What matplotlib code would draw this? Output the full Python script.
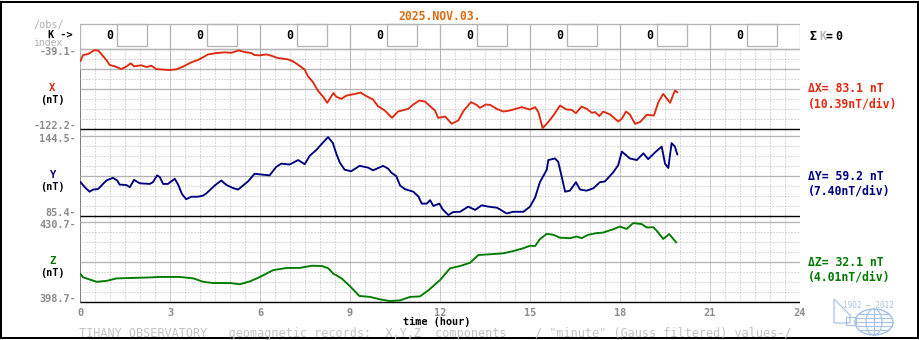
import numpy as np
import matplotlib
matplotlib.use("Agg")
import matplotlib.pyplot as plt
from matplotlib.patches import Rectangle, Ellipse, Polygon

W, H = 920, 340
MONO = "DejaVu Sans Mono"
FS = 8.3
FS_SMALL = 7.4

# X component (nT)
x_hours = [0.02, 0.10, 0.27, 0.49, 0.62, 0.73, 0.88, 0.99, 1.16, 1.38,
           1.54, 1.69, 1.80, 2.04, 2.21, 2.38, 2.54, 2.82, 2.99, 3.21,
           3.43, 3.71, 3.93, 4.10, 4.27, 4.54, 4.82, 5.04, 5.29, 5.49,
           5.71, 5.82, 5.99, 6.21, 6.38, 6.60, 6.93, 7.10, 7.32, 7.49,
           7.60, 7.77, 7.93, 8.10, 8.24, 8.36, 8.45, 8.54, 8.71, 8.88,
           9.16, 9.36, 9.51, 9.77, 9.93, 10.16, 10.40, 10.60, 10.94, 11.11,
           11.31, 11.50, 11.67, 11.83, 11.94, 12.17, 12.39, 12.61, 12.78, 13.03,
           13.22, 13.33, 13.53, 13.67, 13.89, 14.11, 14.33, 14.72, 15.00, 15.17,
           15.28, 15.42, 15.56, 15.78, 16.00, 16.22, 16.39, 16.53, 16.72, 16.89,
           17.06, 17.17, 17.31, 17.44, 17.67, 17.94, 18.06, 18.20, 18.33, 18.50,
           18.67, 18.89, 19.13, 19.28, 19.44, 19.67, 19.83, 19.91]
x_values = [-50.5, -44.4, -43.3, -39.1, -39.8, -44.1, -49.7, -55.0, -56.4, -59.3,
            -56.8, -53.2, -56.4, -55.3, -57.1, -55.8, -59.3, -60.0, -60.3, -59.6,
            -56.8, -52.1, -49.7, -46.8, -43.7, -42.3, -41.5, -42.0, -39.4, -41.2,
            -42.3, -44.4, -44.7, -43.7, -45.1, -47.6, -49.0, -51.1, -55.8, -60.0,
            -67.0, -73.4, -82.3, -88.7, -95.3, -89.3, -84.7, -88.7, -91.1, -87.6,
            -85.8, -84.4, -87.6, -91.8, -98.8, -103.5, -111.3, -104.6, -101.7, -97.1,
            -92.9, -94.0, -98.8, -103.5, -111.3, -109.9, -117.6, -114.1, -104.1, -94.6,
            -97.5, -100.6, -97.1, -97.5, -101.7, -104.6, -103.5, -99.9, -102.4, -99.9,
            -105.2, -122.2, -117.6, -108.8, -98.2, -102.4, -102.8, -106.3, -99.3, -101.7,
            -105.9, -105.2, -109.4, -104.6, -107.7, -115.2, -112.3, -104.6, -107.7, -117.6,
            -115.8, -108.1, -108.8, -94.6, -85.8, -95.3, -82.3, -84.0]

# Y component (nT)
y_hours = [0.02, 0.16, 0.32, 0.43, 0.60, 0.88, 1.10, 1.24, 1.32, 1.54,
           1.66, 1.80, 1.99, 2.32, 2.43, 2.57, 2.66, 2.77, 2.93, 3.16,
           3.27, 3.40, 3.54, 3.71, 3.93, 4.10, 4.21, 4.49, 4.71, 4.88,
           5.10, 5.27, 5.60, 5.82, 6.10, 6.32, 6.54, 6.71, 6.99, 7.27,
           7.49, 7.66, 7.88, 8.10, 8.27, 8.43, 8.54, 8.66, 8.82, 9.04,
           9.32, 9.60, 9.77, 10.10, 10.27, 10.38, 10.54, 10.67, 10.83, 11.11,
           11.28, 11.39, 11.56, 11.67, 11.78, 11.98, 12.09, 12.28, 12.44, 12.67,
           12.94, 13.17, 13.39, 13.61, 13.89, 14.00, 14.22, 14.44, 14.78, 15.00,
           15.17, 15.33, 15.56, 15.61, 15.83, 15.94, 16.06, 16.17, 16.33, 16.53,
           16.67, 16.89, 17.11, 17.33, 17.50, 17.78, 17.94, 18.06, 18.33, 18.56,
           18.78, 18.94, 19.17, 19.39, 19.50, 19.61, 19.72, 19.83, 19.91]
y_values = [110.3, 106.5, 103.1, 104.7, 105.1, 111.6, 113.6, 111.6, 108.5, 108.2,
            106.5, 112.1, 109.5, 109.0, 110.3, 115.5, 114.2, 109.0, 109.0, 112.9,
            108.5, 101.3, 97.4, 99.3, 99.3, 100.1, 101.8, 107.8, 111.6, 108.2,
            105.9, 104.7, 110.9, 116.7, 116.0, 115.5, 121.9, 124.4, 123.7, 127.1,
            124.0, 130.4, 134.8, 140.4, 144.5, 139.9, 132.2, 125.2, 119.8, 118.6,
            122.7, 121.4, 119.3, 122.7, 120.6, 117.5, 115.0, 107.8, 105.1, 103.1,
            99.5, 94.1, 94.1, 96.7, 92.3, 94.1, 89.7, 85.4, 87.7, 87.9,
            91.8, 89.3, 92.8, 91.8, 91.0, 89.7, 86.6, 87.9, 87.9, 91.8,
            98.7, 110.3, 119.8, 127.1, 128.3, 125.8, 114.2, 103.1, 103.9, 110.3,
            104.7, 103.9, 105.7, 110.3, 110.9, 118.0, 123.2, 133.5, 128.3, 127.1,
            132.2, 127.8, 132.9, 137.3, 124.4, 121.1, 139.9, 137.3, 131.4]

# Z component (nT)
z_hours = [0.00, 0.11, 0.56, 0.89, 1.22, 1.78, 2.33, 2.67, 3.33, 3.78,
           4.11, 4.44, 5.00, 5.33, 5.67, 6.00, 6.44, 6.89, 7.33, 7.72,
           8.06, 8.28, 8.44, 8.72, 9.00, 9.31, 9.67, 10.00, 10.33, 10.67,
           11.00, 11.33, 11.61, 12.00, 12.33, 12.67, 13.00, 13.28, 13.67, 14.11,
           14.44, 14.78, 15.00, 15.17, 15.33, 15.56, 15.78, 16.00, 16.33, 16.56,
           16.72, 16.94, 17.22, 17.44, 17.78, 18.00, 18.22, 18.44, 18.72, 18.89,
           19.11, 19.22, 19.44, 19.64, 19.87]
z_values = [410.0, 408.4, 406.6, 407.0, 408.0, 408.2, 408.4, 408.6, 408.6, 408.0,
            406.6, 406.1, 406.1, 405.6, 406.8, 408.6, 411.4, 412.3, 412.3, 413.2,
            413.1, 412.1, 410.0, 408.0, 404.8, 400.8, 400.4, 399.4, 398.7, 399.0,
            400.4, 400.6, 403.1, 407.3, 412.1, 413.1, 414.4, 417.6, 417.9, 418.3,
            419.2, 420.4, 421.4, 421.3, 424.1, 426.3, 425.9, 424.7, 424.5, 425.2,
            424.5, 425.9, 426.6, 426.8, 428.2, 429.3, 428.3, 430.7, 430.3, 428.9,
            429.0, 427.6, 424.2, 426.2, 422.8]

k_index = [0, 0, 0, 0, 0, 0, 0, 0]
hour_ticks = [0, 3, 6, 9, 12, 15, 18, 21, 24]
components = ["X", "Y", "Z"]
delta_labels = ["\u0394X= 83.1 nT", "\u0394Y= 59.2 nT", "\u0394Z= 32.1 nT"]
div_labels = ["(10.39nT/div)", "(7.40nT/div)", "(4.01nT/div)"]
colors = ["#e02a10", "#000080", "#007a00"]
date_label = "2025.NOV.03."
footer = ('TIHANY OBSERVATORY   geomagnetic records:  X,Y,Z  components    '
          '/ "minute" (Gauss filtered) values-/')

GRID = "#b4b4b4"
GRID_DARK = "#9a9a9a"
TICK_GREY = "#8c8c8c"
PX = 0.72  # one pixel in points


def rect(x0, y0, x1, y1):
    return [x0 / W, 1 - y1 / H, (x1 - x0) / W, (y1 - y0) / H]


def ftext(x, y, s, **kw):
    kw.setdefault("family", MONO)
    kw.setdefault("fontsize", FS)
    kw.setdefault("va", "center")
    return fig.text(x / W, 1 - y / H, s, **kw)


fig = plt.figure(figsize=(W / 100, H / 100), dpi=100)
fig.patch.set_facecolor("white")

# background grid in pixel rows
L, R = 80, 800
bg = fig.add_axes(rect(L, 20, R, 306))
bg.set_xlim(0, 24)
bg.set_ylim(306, 20)
bg.axis("off")

panels = [(49, 129), (136, 216), (222, 302)]
solid_divs = [[2, 4], [4], [4]]

# vertical lines every half hour
for t in np.arange(0.5, 24.0, 0.5):
    if t % 3 == 0:
        bg.vlines(t, 69, 302, color=GRID_DARK, lw=PX, linestyles=(0, (1, 1)))
        bg.vlines(t, 49, 69, color=GRID, lw=PX)
    else:
        bg.vlines(t, 49, 302, color=GRID, lw=PX, linestyles=(0, (1, 2)))
bg.vlines(0, 69, 302, color="black", lw=PX, linestyles=(0, (1, 1)))
bg.vlines(0, 49, 69, color=GRID, lw=PX)
bg.vlines(24, 49, 302, color=GRID, lw=PX, linestyles=(0, (1, 1)))

for (top, bot), solids in zip(panels, solid_divs):
    step = (bot - top) / 8
    bg.hlines(top, 0, 24, color=GRID, lw=1.3 * PX)
    for i in range(1, 8):
        y = top + i * step
        if i in solids:
            bg.hlines(y, 0, 24, color=GRID, lw=1.3 * PX)
        else:
            bg.hlines(y, 0, 24, color=GRID, lw=PX, linestyles=(0, (1, 2)))
    bg.hlines(bot, 0, 24, color="black", lw=1.4 * PX)

# K-index row
bg.add_patch(Rectangle((0, 24), 24, 25, fill=False, ec=GRID, lw=1.3 * PX))
for i, k in enumerate(k_index):
    t0 = 3 * i
    if i > 0:
        bg.vlines(t0, 24, 49, color=GRID, lw=1.3 * PX)
    bg.add_patch(Rectangle((t0 + 37 / 30, 24), 1.0, 22.3, fill=False,
                           ec=GRID, lw=1.3 * PX))
    bg.text(t0 + 0.98, 35.5, str(k), family=MONO, fontsize=FS,
            fontweight="bold", ha="center", va="center", color="black")

# component panels
series = [(x_hours, x_values), (y_hours, y_values), (z_hours, z_values)]
for (top, bot), (hrs, vals), name, col, dl, dv in zip(
        panels, series, components, colors, delta_labels, div_labels):
    ax = fig.add_axes(rect(L, top, R, bot))
    ax.patch.set_alpha(0)
    ax.axis("off")
    vmin, vmax = min(vals), max(vals)
    rng = vmax - vmin
    ax.set_xlim(0, 24)
    ax.set_ylim(vmin - 0.012 * rng, vmax + 0.014 * rng)
    ax.plot(hrs, vals, color=col, lw=1.35)

    ftext(76, top + 3, f"{vmax:.1f}-", ha="right", color=TICK_GREY,
          fontweight="bold", fontsize=FS_SMALL)
    ftext(76, bot - 3, f"{vmin:.1f}-", ha="right", color=TICK_GREY,
          fontweight="bold", fontsize=FS_SMALL)
    mid = (top + bot) / 2
    ftext(52.5, mid - 1, name, ha="center", color=col, fontweight="bold",
          fontsize=FS_SMALL + 0.3)
    ftext(52.5, mid + 10.5, "(nT)", ha="center", color="black",
          fontweight="bold", fontsize=FS_SMALL)
    ftext(808, mid, dl, ha="left", color=col, fontweight="bold")
    ftext(808, mid + 15, dv, ha="left", color=col, fontweight="bold")

# hour axis
for h in hour_ticks:
    ftext(L + h * 30, 313.5, str(h), ha="center", color=TICK_GREY,
          fontweight="bold", fontsize=FS_SMALL)
ftext(437, 322, "time (hour)", ha="center", color="black",
      fontweight="bold", fontsize=FS_SMALL)
ftext(79, 333.5, footer, ha="left", color="#c4c4c4", fontsize=8.45)

# header
ftext(440, 16, date_label, ha="center", color="#e06a10", fontweight="bold")
ftext(49, 25, "/obs/", ha="center", color="#b0b0b0", fontsize=FS_SMALL)
ftext(60, 34.5, "K ->", ha="center", color="black", fontweight="bold",
      fontsize=FS_SMALL)
ftext(48, 43.5, "index", ha="center", color="#b0b0b0", fontsize=7.0)
ftext(810, 36, "\u03a3", ha="left", color="black", fontweight="bold")
ftext(819, 36, "K", ha="left", color="#b8b8b8", fontweight="bold")
ftext(826, 36, "=", ha="left", color="black", fontweight="bold")
ftext(835, 36, str(sum(k_index)), ha="left", color="black",
      fontweight="bold")

# observatory badge
logo = fig.add_axes(rect(826, 296, 906, 338))
logo.set_xlim(826, 906)
logo.set_ylim(338, 296)
logo.axis("off")
blue = "#a9c3e6"
logo.text(868, 305, "1902 \u2014 2012", family=MONO, fontsize=5.5,
          color=blue, ha="center", va="center")
logo.add_patch(Polygon([(834, 299), (850, 315), (850, 323), (834, 323)],
                       closed=True, fill=False, ec=blue, lw=1.2 * PX))
logo.add_patch(Rectangle((846, 317), 10, 8, fill=False, ec=blue, lw=1.2 * PX))
logo.add_patch(Ellipse((874, 322), 38, 26, fill=False, ec=blue, lw=1.5 * PX))
logo.add_patch(Ellipse((874, 322), 16, 26, fill=False, ec=blue, lw=1.2 * PX))
for yy in (314, 318, 322, 326, 330):
    half = 19 * np.sqrt(max(0.0, 1 - ((yy - 322) / 13) ** 2))
    logo.plot([874 - half, 874 + half], [yy, yy], color=blue, lw=1.2 * PX)
logo.vlines(874, 309, 335, color=blue, lw=1.2 * PX)

# outer frame
fig.add_artist(Rectangle((1 / W, 2 / H), 917 / W, 336 / H,
                         transform=fig.transFigure, fill=False,
                         ec="black", lw=2 * PX))

fig.savefig("out.png", dpi=100, facecolor="white")
